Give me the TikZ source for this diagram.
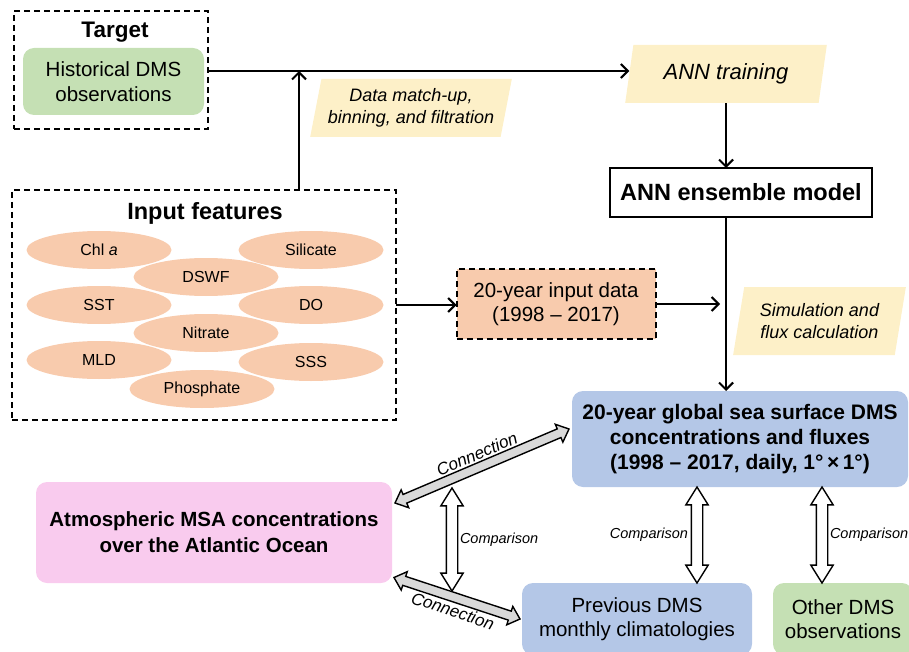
\documentclass[tikz,border=0pt]{standalone}
\usepackage{fontspec}
\setmainfont{Liberation Sans}
\usetikzlibrary{shapes.geometric,shapes.arrows,arrows.meta,calc}

\definecolor{obsgreen}{HTML}{C5E0B4}
\definecolor{noteyellow}{HTML}{FDF0C8}
\definecolor{featorange}{HTML}{F8CBAD}
\definecolor{dmsblue}{HTML}{B4C7E7}
\definecolor{msapink}{HTML}{F9CBEE}
\definecolor{linkgray}{HTML}{D9D9D9}

\begin{document}
\begin{tikzpicture}[x=1pt,y=-1pt,
  every node/.style={inner sep=0pt, outer sep=0pt, align=center},
  groupbox/.style={draw, line width=2pt, dash pattern=on 6pt off 4pt},
  titletext/.style={font=\fontsize{23.5}{27}\selectfont\bfseries},
  bodytext/.style={font=\fontsize{20.5}{24.5}\selectfont},
  boldbody/.style={font=\fontsize{21}{25}\selectfont\bfseries},
  roundbox/.style={rounded corners=11pt},
  stepnote/.style={trapezium, trapezium stretches=true, fill=noteyellow,
    font=\fontsize{18}{22}\selectfont\itshape},
  feat/.style={ellipse, fill=featorange, minimum width=145pt, minimum height=38pt,
    font=\fontsize{16}{19}\selectfont},
  flow/.style={line width=2.1pt, -{Straight Barb[length=7pt,width=14pt]}},
  fatlink/.style={double arrow, draw, line width=1.4pt, fill=linkgray,
    inner xsep=0pt, inner ysep=4pt, double arrow head extend=5pt,
    double arrow tip angle=84},
  fatcmp/.style={double arrow, draw, line width=1.4pt, fill=white,
    inner xsep=0pt, inner ysep=5pt, double arrow head extend=5.5pt,
    double arrow tip angle=64},
  linklabel/.style={font=\fontsize{17}{20}\selectfont\itshape},
  cmplabel/.style={font=\fontsize{14.5}{17}\selectfont\itshape},
]
\useasboundingbox (0,0) rectangle (909,652);

% ---- target group ----
\node[groupbox, minimum width=194pt, minimum height=118pt] (target) at (111,70) {};
\node[titletext, font=\fontsize{22.5}{26}\selectfont\bfseries] (targettitle) at (115,32) {Target};
\node[bodytext, roundbox, fill=obsgreen, minimum width=181pt, minimum height=67pt]
  (hist) at (113.5,81.5) {Historical DMS\\observations};

% ---- input features group ----
\node[groupbox, minimum width=384pt, minimum height=230pt] (inputs) at (204,305) {};
\node[titletext] (inputtitle) at (205,213) {Input features};
\node[feat] (chl)   at (99,250)  {Chl \textit{a}};
\node[feat] (sil)   at (311,250) {Silicate};
\node[feat] (dswf)  at (206,277) {DSWF};
\node[feat] (sst)   at (99,305)  {SST};
\node[feat] (do)    at (311,305) {DO};
\node[feat] (nit)   at (206,333) {Nitrate};
\node[feat] (mld)   at (99,360)  {MLD};
\node[feat] (sss)   at (311,362) {SSS};
\node[feat] (pho)   at (202,389) {Phosphate};

% ---- training branch ----
\node[stepnote, minimum width=202pt, minimum height=58pt,
  trapezium left angle=75, trapezium right angle=105] (match) at (411,108)
  {Data match-up,\\binning, and filtration};
\node[stepnote, minimum width=202pt, minimum height=58pt,
  trapezium left angle=75, trapezium right angle=105,
  font=\fontsize{22}{26}\selectfont\itshape] (train) at (726,74) {ANN training};
\node[draw, line width=2pt, fill=white, minimum width=262pt, minimum height=49pt,
  titletext] (ensemble) at (741,192.5) {ANN ensemble model};

% ---- simulation branch ----
\node[groupbox, fill=featorange, minimum width=199pt, minimum height=70pt, bodytext]
  (indata) at (556,304) {20-year input data\\(1998 – 2017)};
\node[stepnote, minimum width=173pt, minimum height=68pt,
  trapezium left angle=76, trapezium right angle=104] (sim) at (819.5,321)
  {Simulation and\\flux calculation};

% ---- products and evaluation ----
\node[boldbody, roundbox, fill=dmsblue, minimum width=336pt, minimum height=96pt]
  (dms) at (740,439) {20-year global sea surface DMS\\concentrations and fluxes\\(1998 – 2017, daily, 1°\,×\,1°)};
\node[bodytext, roundbox, fill=msapink, minimum width=356pt, minimum height=101pt,
  font=\fontsize{20.5}{26}\selectfont\bfseries]
  (msa) at (214,532.5) {Atmospheric MSA concentrations\\over the Atlantic Ocean};
\node[bodytext, roundbox, fill=dmsblue, minimum width=230pt, minimum height=72pt]
  (prev) at (637,619) {Previous DMS\\monthly climatologies};
\node[bodytext, roundbox, fill=obsgreen, minimum width=140pt, minimum height=72pt]
  (other) at (843,619) {Other DMS\\observations};

% ---- plain connectors ----
\coordinate (merge) at (299,71);
\draw[line width=2.1pt] (target.east |- merge) -- (merge);
\draw[flow] (merge) -- (merge -| train.west);
\draw[flow] (inputs.north -| merge) -- (merge);
\draw[flow] (train.south) -- (ensemble.north -| train.south);
\draw[flow] (ensemble.south -| train.south) -- (dms.north -| train.south);
\draw[flow] (inputs.east) -- (inputs.east -| indata.west);
\draw[flow, shorten >=6pt] (indata.east) -- (indata.east -| train.south);

% ---- hollow double arrows ----
\coordinate (g1a) at ($(msa.east)+(3,-29.5)$);
\coordinate (g1b) at ($(dms.west)+(-3,-10)$);
\coordinate (g2a) at ($(msa.east)+(2,45)$);
\coordinate (g2b) at ($(prev.west)+(-2,0)$);
\coordinate (v0a) at (452,488);
\coordinate (v0b) at (452,591);
\coordinate (v1) at (697,0);
\coordinate (v2) at (822,0);

\path let \p1=(g1a), \p2=(g1b), \n1={veclen(\x2-\x1,\y2-\y1)} in
  (g1a) -- (g1b)
  node[midway, sloped, fatlink, minimum height=\n1] (link1) {}
  node[midway, sloped, above=7pt, linklabel] (link1lbl) {Connection};
\path let \p1=(g2a), \p2=(g2b), \n1={veclen(\x2-\x1,\y2-\y1)} in
  (g2a) -- (g2b)
  node[midway, sloped, fatlink, minimum height=\n1] (link2) {}
  node[midway, sloped, below=7pt, linklabel] (link2lbl) {Connection};

\path let \p1=(v0a), \p2=(v0b), \n1={veclen(\x2-\x1,\y2-\y1)} in
  (v0a) -- (v0b)
  node[midway, sloped, fatcmp, minimum height=\n1] (cmp0) {};
\path let \p1=(dms.south -| v1), \p2=(prev.north -| v1), \n1={veclen(\x2-\x1,\y2-\y1)} in
  (dms.south -| v1) -- (prev.north -| v1)
  node[midway, sloped, fatcmp, minimum height=\n1] (cmp1) {};
\path let \p1=(dms.south -| v2), \p2=(other.north -| v2), \n1={veclen(\x2-\x1,\y2-\y1)} in
  (dms.south -| v2) -- (other.north -| v2)
  node[midway, sloped, fatcmp, minimum height=\n1] (cmp2) {};

\node[cmplabel, anchor=west] (cmp0lbl) at (460,540) {Comparison};
\node[cmplabel, anchor=east] (cmp1lbl) at (688,535) {Comparison};
\node[cmplabel, anchor=west] (cmp2lbl) at (830,535) {Comparison};
\end{tikzpicture}
\end{document}
